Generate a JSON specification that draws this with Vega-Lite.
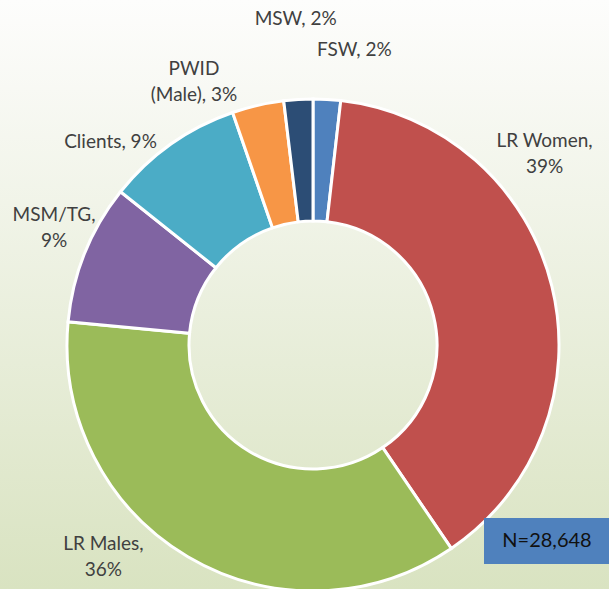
{
  "$schema": "https://vega.github.io/schema/vega-lite/v6.json",
  "width": 609,
  "height": 589,
  "autosize": {"type": "none"},
  "padding": 0,
  "background": "#ffffff",
  "config": {
    "view": {
      "stroke": null,
      "fill": {"gradient": "linear", "x1": 0, "y1": 0, "x2": 0, "y2": 1,
        "stops": [{"offset": 0, "color": "#fdfdfc"}, {"offset": 0.15, "color": "#f8f9f4"}, {"offset": 1, "color": "#d9e3c1"}]}
    },
    "text": {"font": "Lato", "fontSize": 19, "color": "#404040", "align": "center", "baseline": "middle", "lineBreak": "\n", "lineHeight": 26}
  },
  "data": {
    "values": [
      {"group": "FSW", "pct": 1.8, "label": "FSW, 2%", "order": 1},
      {"group": "LR Women", "pct": 38.7, "label": "LR Women,\n39%", "order": 2},
      {"group": "LR Males", "pct": 36.0, "label": "LR Males,\n36%", "order": 3},
      {"group": "MSM/TG", "pct": 9.2, "label": "MSM/TG,\n9%", "order": 4},
      {"group": "Clients", "pct": 9.0, "label": "Clients, 9%", "order": 5},
      {"group": "PWID (Male)", "pct": 3.4, "label": "PWID\n(Male), 3%", "order": 6},
      {"group": "MSW", "pct": 1.9, "label": "MSW, 2%", "order": 7}
    ]
  },
  "transform": [
    {"stack": "pct", "groupby": [], "sort": [{"field": "order", "order": "ascending"}], "as": ["t0", "t1"]},
    {"calculate": "(datum.t0 + datum.t1) / 2", "as": "mid"}
  ],
  "layer": [
    {
      "mark": {"type": "arc", "x": 313, "y": 345, "radius": 246, "radius2": 124, "stroke": "white", "strokeWidth": 3},
      "encoding": {
        "theta": {"field": "t0", "type": "quantitative", "scale": {"domain": [0, 100]}},
        "theta2": {"field": "t1"},
        "color": {
          "field": "group", "type": "nominal", "legend": null,
          "scale": {
            "domain": ["FSW", "LR Women", "LR Males", "MSM/TG", "Clients", "PWID (Male)", "MSW"],
            "range": ["#4f81bd", "#c0504d", "#9bbb59", "#8064a2", "#4bacc6", "#f79646", "#2c4d75"]
          }
        }
      }
    },
    {"transform": [{"filter": "datum.group === 'FSW'"}], "mark": {"type": "text", "x": 313, "y": 345, "radius": 290, "dx": 25, "dy": -5}, "encoding": {"theta": {"field": "mid", "type": "quantitative"}, "text": {"field": "label"}}},
    {"transform": [{"filter": "datum.group === 'LR Women'"}], "mark": {"type": "text", "x": 313, "y": 345, "radius": 290, "dx": -50, "dy": -135}, "encoding": {"theta": {"field": "mid", "type": "quantitative"}, "text": {"field": "label"}}},
    {"transform": [{"filter": "datum.group === 'LR Males'"}], "mark": {"type": "text", "x": 313, "y": 345, "radius": 290, "dx": -62, "dy": -51}, "encoding": {"theta": {"field": "mid", "type": "quantitative"}, "text": {"field": "label"}}},
    {"transform": [{"filter": "datum.group === 'MSM/TG'"}], "mark": {"type": "text", "x": 313, "y": 345, "radius": 290, "dx": 10, "dy": -22}, "encoding": {"theta": {"field": "mid", "type": "quantitative"}, "text": {"field": "label"}}},
    {"transform": [{"filter": "datum.group === 'Clients'"}], "mark": {"type": "text", "x": 313, "y": 345, "radius": 290, "dx": -35, "dy": 34}, "encoding": {"theta": {"field": "mid", "type": "quantitative"}, "text": {"field": "label"}}},
    {"transform": [{"filter": "datum.group === 'PWID (Male)'"}], "mark": {"type": "text", "x": 313, "y": 345, "radius": 290, "dx": -54, "dy": 7}, "encoding": {"theta": {"field": "mid", "type": "quantitative"}, "text": {"field": "label"}}},
    {"transform": [{"filter": "datum.group === 'MSW'"}], "mark": {"type": "text", "x": 313, "y": 345, "radius": 290, "dx": 0, "dy": -37}, "encoding": {"theta": {"field": "mid", "type": "quantitative"}, "text": {"field": "label"}}},
    {
      "data": {"values": [{"note": "N=28,648"}]},
      "mark": {"type": "rect", "color": "#4f81bd"},
      "encoding": {"x": {"value": 484}, "x2": {"value": 609}, "y": {"value": 518}, "y2": {"value": 564}}
    },
    {
      "data": {"values": [{"note": "N=28,648"}]},
      "mark": {"type": "text", "fontSize": 20, "color": "#111111", "font": "Lato"},
      "encoding": {"x": {"value": 547}, "y": {"value": 541}, "text": {"field": "note"}}
    }
  ]
}
